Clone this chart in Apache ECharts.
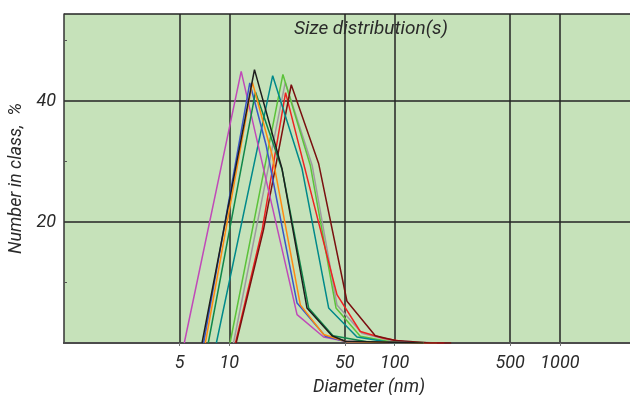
<!DOCTYPE html>
<html>
<head>
<meta charset="utf-8">
<script src="https://cdn.jsdelivr.net/npm/echarts@6/dist/echarts.min.js"></script>
<style>
  html, body { margin: 0; padding: 0; background: #fff; }
  #chart { width: 630px; height: 395px; }
</style>
</head>
<body>
<div id="chart"></div>
<script>
// tick values
const xTickValues = [5, 10, 50, 100, 500, 1000];
const yLabelValues = [20, 40];
const yMinorTicks = [10, 30, 50];

// [diameter nm, number %] per measurement
const magentaRun = [[5.34, 0], [11.8, 44.9], [25.7, 4.7], [37.2, 1.0], [50.3, 0.3], [150, 0]];
const blueRun = [[6.99, 0], [13.3, 43.0], [16.7, 32.7], [25.7, 6.6], [38.1, 1.1], [51.5, 0.2], [150, 0]];
const blackRun = [[6.84, 0], [14.2, 45.2], [20.8, 28.9], [29.5, 5.8], [41.8, 1.2], [50.3, 0.3], [150, 0]];
const orangeRun = [[7.16, 0], [13.8, 43.1], [18.2, 31.0], [26.9, 6.3], [37.2, 1.4], [51.5, 0.2], [150, 0]];
const darkGreenRun = [[7.46, 0], [14.4, 41.5], [20.9, 28.6], [30.2, 5.8], [42.4, 1.2], [68, 0.2], [150, 0]];
const tealRun = [[8.35, 0], [18.3, 44.2], [27.5, 28.9], [39.9, 5.8], [59.2, 1.0], [98.6, 0], [150, 0]];
const lightGreenRun = [[10.1, 0], [21.1, 44.4], [30.9, 29.4], [44.2, 5.8], [62.0, 1.1], [94.2, 0.2], [180, 0]];
const grayRun = [[10.6, 0], [21.8, 43.1], [31.7, 29.4], [44.8, 6.3], [63.5, 1.6], [94.2, 0.4], [180, 0]];
const redRun = [[10.9, 0], [15.8, 18.7], [21.9, 41.4], [44.8, 8.0], [62.0, 1.9], [85.7, 0.8], [124.5, 0.05], [200, 0]];
const darkRedRun = [[11.0, 0], [16.1, 18.7], [23.7, 42.7], [34.7, 29.7], [51.5, 6.9], [76.4, 1.2], [101, 0.4], [164, 0], [220, 0]];

const runs = [
  { data: grayRun, color: '#a09aa0' },
  { data: lightGreenRun, color: '#5cc23a' },
  { data: redRun, color: '#ee2222' },
  { data: darkRedRun, color: '#7a1010' },
  { data: tealRun, color: '#00898a' },
  { data: magentaRun, color: '#c04ab8' },
  { data: blueRun, color: '#3a56c8' },
  { data: darkGreenRun, color: '#11874a' },
  { data: orangeRun, color: '#ff8a10' },
  { data: blackRun, color: '#1e1e1e' }
];

const font = "'Liberation Sans Narrow', 'Roboto', sans-serif";
const textStyle = { fontFamily: font, fontStyle: 'italic', fontSize: 18, color: '#2a2a2a' };

const chart = echarts.init(document.getElementById('chart'));

chart.setOption({
  animation: false,
  backgroundColor: '#fff',
  title: {
    text: 'Size distribution(s)',
    left: 289,
    top: 15,
    textStyle: Object.assign({}, textStyle, { fontWeight: 'normal', fontSize: 19 })
  },
  grid: {
    left: 64, right: 0, top: 14, bottom: 52,
    outerBoundsMode: 'none',
    show: true, backgroundColor: '#c6e2ba', borderWidth: 0
  },
  xAxis: [{
    type: 'log',
    logBase: 10,
    min: 1,
    max: 2655,
    name: 'Diameter (nm)',
    nameLocation: 'middle',
    nameGap: 35,
    nameTextStyle: Object.assign({}, textStyle, { padding: [0, 0, 0, 44] }),
    axisLine: { lineStyle: { color: '#333', width: 2 } },
    axisTick: { customValues: xTickValues, length: 3, lineStyle: { color: '#777' } },
    axisLabel: Object.assign({ customValues: xTickValues, margin: 11, formatter: v => String(v) }, textStyle),
    splitLine: { show: true, lineStyle: { color: '#232323', width: 1.5 } }
  }, {
    type: 'log',
    logBase: 10,
    min: 1,
    max: 2655,
    position: 'top',
    axisLine: { lineStyle: { color: '#555', width: 1.5 } },
    axisTick: { show: false },
    axisLabel: { show: false },
    splitLine: { show: false }
  }],
  yAxis: [{
    type: 'value',
    min: 0,
    max: 54.4,
    interval: 20,
    name: 'Number in class,  %',
    nameLocation: 'middle',
    nameRotate: 90,
    nameGap: 31,
    nameTextStyle: textStyle,
    axisLine: { show: true, lineStyle: { color: '#333', width: 1.5 } },
    axisTick: { show: false },
    axisLabel: Object.assign({ customValues: yLabelValues, margin: 8 }, textStyle),
    splitLine: { show: true, lineStyle: { color: '#232323', width: 1.5 } }
  }, {
    type: 'value',
    min: 0,
    max: 54.4,
    position: 'left',
    axisLine: { show: false },
    axisTick: { show: true, inside: true, length: 3, customValues: yMinorTicks, lineStyle: { color: '#555' } },
    axisLabel: { show: false },
    splitLine: { show: false }
  }],
  series: runs.map(r => ({
    type: 'line',
    data: r.data,
    xAxisIndex: 0,
    yAxisIndex: 0,
    symbol: 'none',
    lineStyle: { color: r.color, width: 1.5 }
  }))
});
</script>
</body>
</html>
